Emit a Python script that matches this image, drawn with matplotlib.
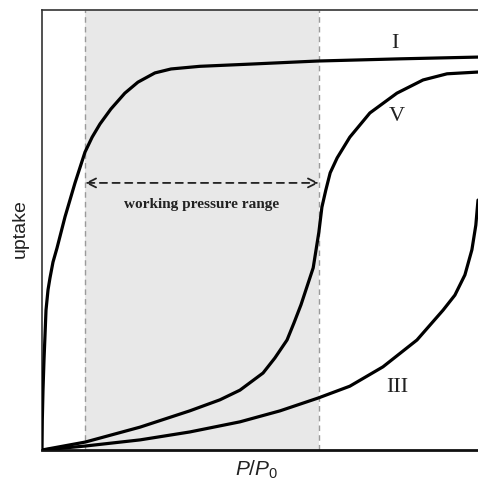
import matplotlib
matplotlib.use("Agg")
import matplotlib.pyplot as plt

# relative pressure P/P0 and uptake (normalised)
p_I = [0.0, 0.0007, 0.0023, 0.0046, 0.0069, 0.0092, 0.0138, 0.0183, 0.0252,
       0.0344, 0.0528, 0.0757, 0.0986, 0.115, 0.133, 0.158, 0.190, 0.220,
       0.259, 0.296, 0.362, 0.477, 0.631, 0.821, 1.0]
uptake_I = [0.0, 0.068, 0.136, 0.205, 0.261, 0.318, 0.364, 0.391, 0.427,
            0.459, 0.530, 0.607, 0.677, 0.711, 0.741, 0.775, 0.811, 0.836,
            0.857, 0.866, 0.872, 0.877, 0.884, 0.889, 0.893]

p_V = [0.0, 0.099, 0.225, 0.339, 0.408, 0.454, 0.507, 0.534, 0.562, 0.578,
       0.594, 0.622, 0.635, 0.642, 0.651, 0.661, 0.677, 0.706, 0.752, 0.814,
       0.874, 0.929, 1.0]
uptake_V = [0.0, 0.018, 0.052, 0.089, 0.114, 0.136, 0.175, 0.209, 0.250, 0.289,
            0.330, 0.414, 0.495, 0.552, 0.591, 0.630, 0.664, 0.711, 0.766,
            0.811, 0.841, 0.855, 0.859]

p_III = [0.0, 0.099, 0.225, 0.339, 0.454, 0.546, 0.633, 0.706, 0.782, 0.860,
         0.920, 0.947, 0.970, 0.986, 0.995, 1.0]
uptake_III = [0.0, 0.009, 0.023, 0.041, 0.064, 0.089, 0.118, 0.145, 0.189,
              0.250, 0.318, 0.352, 0.398, 0.455, 0.511, 0.568]

# working pressure window
range_lo, range_hi = 0.099, 0.635

plt.rcParams["mathtext.fontset"] = "custom"
plt.rcParams["mathtext.it"] = "Liberation Sans:italic"
plt.rcParams["mathtext.rm"] = "Liberation Sans"

fig = plt.figure(figsize=(4.78, 4.82), dpi=100)
ax = fig.add_axes([42 / 478, 32 / 482, 436 / 478, 440 / 482])
ax.set_xlim(0, 1)
ax.set_ylim(0, 1)

ax.axvspan(range_lo, range_hi, color="#e8e8e8", zorder=0, lw=0)
for xv in (range_lo, range_hi):
    ax.axvline(xv, color="#9a9a9a", lw=1.0, ls=(0, (4, 3)), zorder=1)

for p, u in ((p_I, uptake_I), (p_V, uptake_V), (p_III, uptake_III)):
    ax.plot(p, u, color="black", lw=2.3, solid_capstyle="round",
            solid_joinstyle="round", zorder=3)

# dashed double arrow across the window
ax.annotate("", xy=(range_hi, 0.607), xytext=(range_lo, 0.607),
            arrowprops=dict(arrowstyle="<->", color="#222222", lw=1.3,
                            ls=(0, (4, 3)), shrinkA=0, shrinkB=0,
                            mutation_scale=16))
ax.text((range_lo + range_hi) / 2 - 0.002, 0.557, "working pressure range",
        ha="center", va="center", fontsize=11, fontweight="bold",
        family="Liberation Serif", color="#222222")

serif = dict(family="Liberation Serif", fontsize=16, color="#222222",
             ha="center", va="center")
ax.text(0.810, 0.925, "I", **serif)
ax.text(0.814, 0.757, "V", **serif)
ax.text(0.814, 0.143, "III", **serif)

ax.set_xticks([])
ax.set_yticks([])
ax.spines["right"].set_visible(False)
for s in ("left", "top"):
    ax.spines[s].set_linewidth(1.2)
    ax.spines[s].set_color("#333333")
ax.spines["bottom"].set_linewidth(2.0)
ax.spines["bottom"].set_color("#111111")

fig.text(20 / 478, 1 - 229 / 482, "uptake", rotation=90, ha="center",
         va="center", fontsize=14, family="Liberation Sans", color="#222222")
fig.text(257 / 478, 1 - 470 / 482, r"$P/P_0$", ha="center", va="center",
         fontsize=15, color="#222222")

fig.savefig("out.png", dpi=100)
